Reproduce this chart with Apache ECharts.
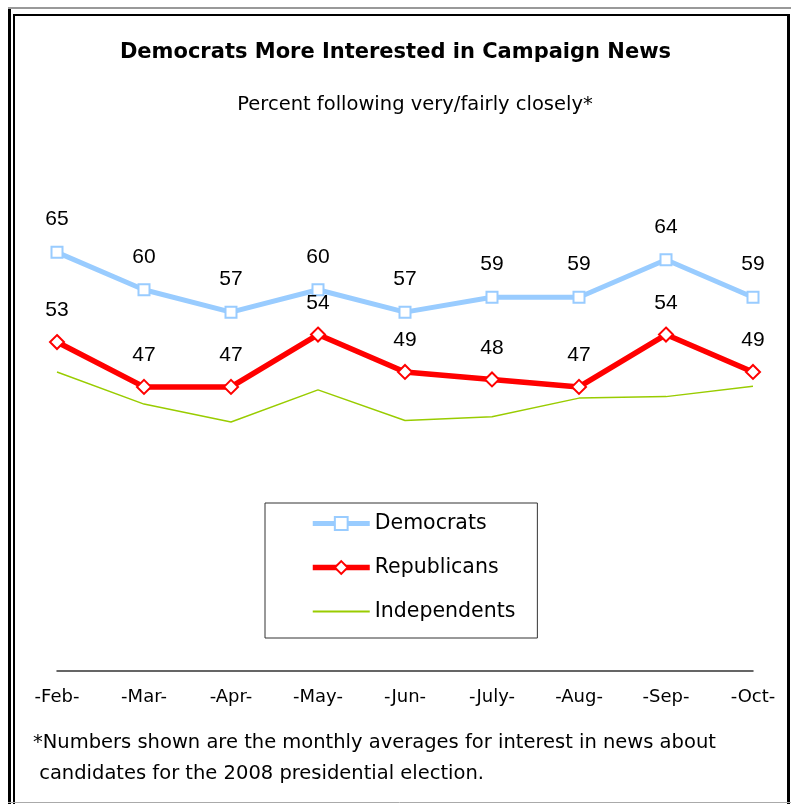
<!DOCTYPE html>
<html>
<head>
<meta charset="utf-8">
<script src="https://cdn.jsdelivr.net/npm/echarts@6/dist/echarts.min.js"></script>
<style>
html,body{margin:0;padding:0;background:#fff;}
#chart{width:791px;height:804px;}
</style>
</head>
<body>
<div id="chart"></div>
<script>
var months = ['-Feb-', '-Mar-', '-Apr-', '-May-', '-Jun-', '-July-', '-Aug-', '-Sep-', '-Oct-'];
var democrats = [65, 60, 57, 60, 57, 59, 59, 64, 59];
var republicans = [53, 47, 47, 54, 49, 48, 47, 54, 49];
var independents = [49, 44.7, 42.3, 46.6, 42.5, 43, 45.5, 45.7, 47.1];
var seriesNames = ['Democrats', 'Republicans', 'Independents'];
var titleText = 'Democrats More Interested in Campaign News';
var subtitleText = 'Percent following very/fairly closely*';
var footnote1 = '*Numbers shown are the monthly averages for interest in news about';
var footnote2 = ' candidates for the 2008 presidential election.';

var FONT = '"DejaVu Sans", Verdana, sans-serif';
var NUMFONT = '"Liberation Sans", Arial, sans-serif';
var chart = echarts.init(document.getElementById('chart'), null, {renderer: 'canvas'});

function labelStyle(d) {
  return {show: true, position: 'top', distance: d, color: '#000', fontSize: 21, fontFamily: NUMFONT};
}

chart.setOption({
  animation: false,
  backgroundColor: '#fff',
  title: [
    {text: titleText, left: 'center', top: 37, textStyle: {fontFamily: FONT, fontSize: 21, fontWeight: 'bold', color: '#000'}},
    {text: subtitleText, left: 410, top: 90, textAlign: 'center', textStyle: {fontFamily: FONT, fontSize: 19.5, fontWeight: 'normal', color: '#000'}}
  ],
  grid: {left: 57, right: 38, top: 200, bottom: 133, containLabel: false},
  legend: {
    orient: 'vertical',
    left: 265, top: 503,
    padding: [10, 22, 16, 45],
    itemGap: 23,
    itemWidth: 57,
    itemHeight: 16,
    borderColor: '#333',
    borderWidth: 1,
    textStyle: {fontFamily: FONT, fontSize: 20.5, color: '#000'},
    data: [
      {name: seriesNames[0], lineStyle: {width: 5}},
      {name: seriesNames[1], lineStyle: {width: 5.5}},
      {name: seriesNames[2], lineStyle: {width: 2}, itemStyle: {opacity: 0}}
    ]
  },
  xAxis: {
    type: 'category',
    data: months,
    boundaryGap: false,
    axisLine: {lineStyle: {color: '#333', width: 1.5}},
    axisTick: {show: false},
    axisLabel: {color: '#000', fontSize: 18, fontFamily: FONT, margin: 17, interval: 0},
    splitLine: {show: false}
  },
  yAxis: {
    type: 'value', min: 9, max: 72,
    show: false,
    splitLine: {show: false}
  },
  series: [
    {
      name: seriesNames[0], type: 'line', data: democrats,
      symbol: 'rect', symbolSize: 11,
      lineStyle: {color: '#99CCFF', width: 5},
      itemStyle: {color: '#fff', borderColor: '#99CCFF', borderWidth: 2},
      label: labelStyle(16), z: 3
    },
    {
      name: seriesNames[1], type: 'line', data: republicans,
      symbol: 'diamond', symbolSize: 14,
      lineStyle: {color: '#FF0000', width: 5.5},
      itemStyle: {color: '#fff', borderColor: '#FF0000', borderWidth: 2},
      label: labelStyle(13), z: 4
    },
    {
      name: seriesNames[2], type: 'line', data: independents,
      symbol: 'none',
      lineStyle: {color: '#99CC00', width: 1.5},
      itemStyle: {color: '#99CC00'},
      z: 2
    }
  ],
  graphic: [
    {type: 'line', shape: {x1: 9.5, y1: 7, x2: 9.5, y2: 804}, style: {stroke: '#000', lineWidth: 3}, silent: true},
    {type: 'line', shape: {x1: 8, y1: 8, x2: 791, y2: 8}, style: {stroke: '#999', lineWidth: 2}, silent: true},
    {type: 'line', shape: {x1: 14, y1: 15, x2: 790, y2: 15}, style: {stroke: '#000', lineWidth: 2}, silent: true},
    {type: 'line', shape: {x1: 14, y1: 14, x2: 14, y2: 804}, style: {stroke: '#000', lineWidth: 2}, silent: true},
    {type: 'line', shape: {x1: 788.5, y1: 14, x2: 788.5, y2: 804}, style: {stroke: '#000', lineWidth: 3}, silent: true},
    {type: 'line', shape: {x1: 8, y1: 802.5, x2: 791, y2: 802.5}, style: {stroke: '#aaa', lineWidth: 1}, silent: true},
    {type: 'text', left: 33, top: 733, style: {text: footnote1, font: '19.5px ' + FONT, fill: '#000'}, silent: true},
    {type: 'text', left: 33, top: 764, style: {text: footnote2, font: '19.5px ' + FONT, fill: '#000'}, silent: true}
  ]
});
</script>
</body>
</html>
